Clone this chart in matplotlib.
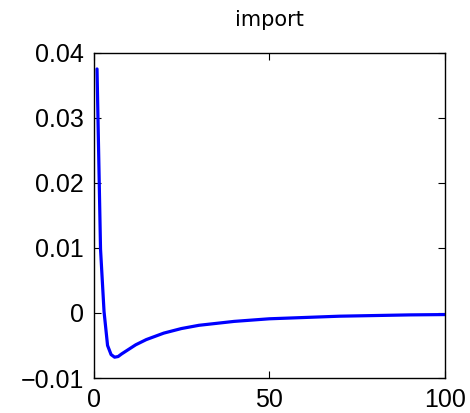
import matplotlib
matplotlib.use("Agg")
import matplotlib.pyplot as plt

# impulse response
periods = [1, 2, 3, 4, 5, 6, 7, 8, 10, 12, 15, 20, 25, 30, 40, 50, 60, 70, 80, 90, 100]
response = [0.0375, 0.0098, 0.0002, -0.0050, -0.0064, -0.0068, -0.0067, -0.0063,
            -0.0056, -0.0049, -0.0041, -0.0031, -0.0024, -0.0019, -0.0013,
            -0.0009, -0.0007, -0.0005, -0.0004, -0.0003, -0.00025]

xticks = [0, 50, 100]
yticks = [-0.01, 0, 0.01, 0.02, 0.03, 0.04]
ytick_labels = ["\u22120.01", "0", "0.01", "0.02", "0.03", "0.04"]

plt.rcParams["font.family"] = ["Liberation Sans", "DejaVu Sans"]

fig = plt.figure(figsize=(4.70, 4.13), dpi=100)
ax = fig.add_axes([93.5 / 470, 1 - 378 / 413, (445 - 93.5) / 470, (378 - 52.7) / 413])

ax.plot(periods, response, color="#0000ff", linewidth=2.3,
        solid_joinstyle="round", solid_capstyle="round")

ax.set_xlim(0, 100)
ax.set_ylim(-0.01, 0.04)
ax.set_xticks(xticks)
ax.set_yticks(yticks)
ax.set_yticklabels(ytick_labels)
ax.tick_params(direction="in", length=5, width=0.8, labelsize=18,
               top=True, right=True, pad=7)
for s in ax.spines.values():
    s.set_linewidth(1.0)

ax.set_title("import", fontsize=15, family="DejaVu Sans", pad=19)

fig.savefig("out.png", dpi=100)
